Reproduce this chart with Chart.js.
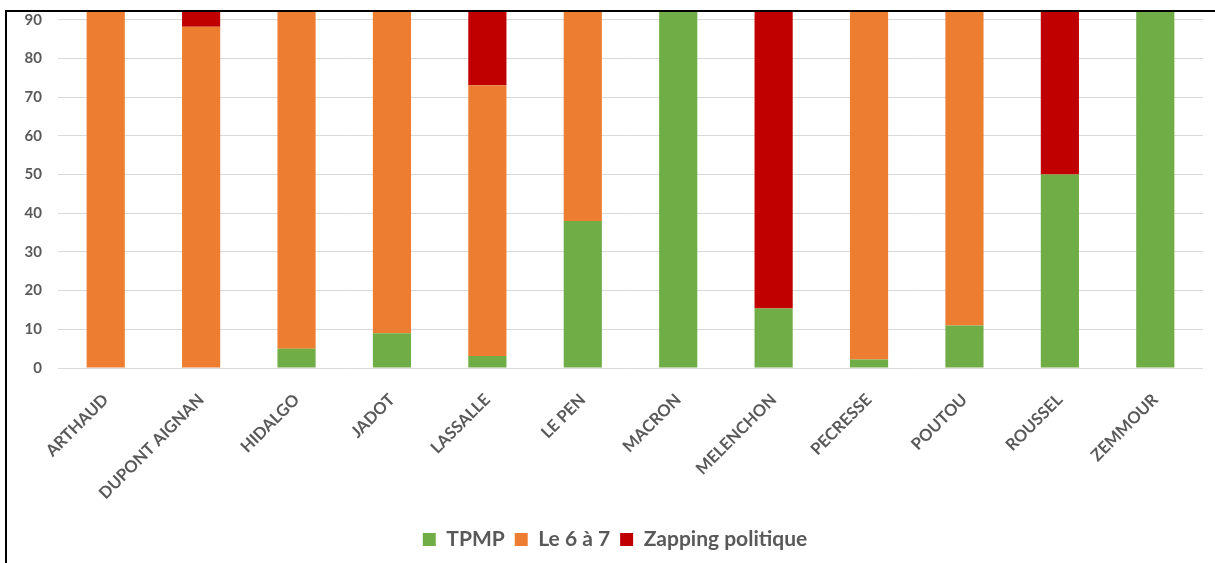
<!DOCTYPE html>
<html>
<head>
<meta charset="utf-8">
<script src="https://cdn.jsdelivr.net/npm/chart.js@4/dist/chart.umd.min.js"></script>
<style>
  html, body { margin: 0; padding: 0; background: #fff; }
  #wrap { position: relative; width: 1215px; height: 563px; overflow: hidden; }
  #frame { position: absolute; left: 5px; top: 10px; width: 1300px; height: 700px;
           border-left: 2px solid #000; border-top: 2px solid #000; pointer-events: none; }
</style>
</head>
<body>
<div id="wrap">
  <canvas id="chart"></canvas>
  <div id="frame"></div>
</div>
<script>
// Candidates and share of each programme (%)
const candidats = ["ARTHAUD", "DUPONT AIGNAN", "HIDALGO", "JADOT", "LASSALLE", "LE PEN",
                   "MACRON", "MELENCHON", "PECRESSE", "POUTOU", "ROUSSEL", "ZEMMOUR"];
const tpmp     = [0, 0, 5, 9, 3.1, 38, 100, 15.4, 2.2, 11, 50, 100];
const le6a7    = [100, 88.2, 95, 91, 70, 62, 0, 0, 97.8, 89, 0, 0];
const zapping  = [0, 11.8, 0, 0, 26.9, 0, 0, 84.6, 0, 0, 50, 0];
const yTicks   = [0, 10, 20, 30, 40, 50, 60, 70, 80, 90];

const grey = "#595959";
Chart.defaults.font.family = "Lato, 'Open Sans', sans-serif";
Chart.defaults.font.weight = "bold";
Chart.defaults.color = grey;

const ctx = document.getElementById("chart").getContext("2d");
new Chart(ctx, {
  type: "bar",
  data: {
    labels: candidats,
    datasets: [
      { label: "TPMP", data: tpmp, backgroundColor: "#70AD47" },
      { label: "Le 6 à 7", data: le6a7, backgroundColor: "#ED7D31" },
      { label: "Zapping politique", data: zapping, backgroundColor: "#C00000" }
    ]
  },
  options: {
    responsive: true,
    maintainAspectRatio: false,
    animation: false,
    barPercentage: 0.4,
    categoryPercentage: 1,
    layout: { padding: { top: 12, right: 0, bottom: 3, left: 15 } },
    scales: {
      x: {
        stacked: true,
        grid: { display: false },
        border: { display: false },
        ticks: { minRotation: 45, maxRotation: 45, padding: 14, labelOffset: 0,
                 font: { size: 16.5 }, color: grey },
        afterFit: s => { s.height = 151; s.paddingRight = 12; }
      },
      y: {
        stacked: true,
        min: 0,
        max: 92,
        grid: { color: "#D9D9D9", drawTicks: false },
        border: { display: false },
        ticks: { stepSize: 10, padding: 16, font: { size: 15 }, color: grey },
        afterBuildTicks: s => { s.ticks = yTicks.map(v => ({ value: v })); },
        afterFit: s => { s.width = 43; s.paddingTop = 0; s.paddingBottom = 0; }
      }
    },
    plugins: {
      legend: {
        position: "bottom",
        labels: { boxWidth: 13, boxHeight: 13, padding: 10, font: { size: 21 }, color: grey }
      },
      tooltip: { enabled: false }
    }
  }
});
</script>
</body>
</html>
